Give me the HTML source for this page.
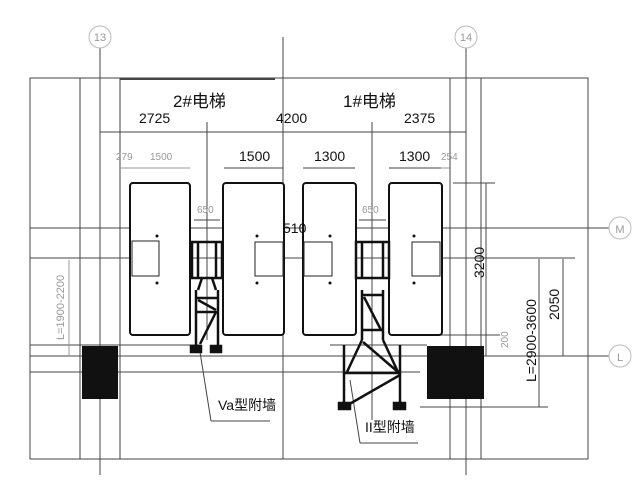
<!DOCTYPE html>
<html><head><meta charset="utf-8"><style>
html,body{margin:0;padding:0;background:#fff;width:640px;height:480px;overflow:hidden}
text{font-family:"Liberation Sans","Noto Sans CJK SC",sans-serif}
</style></head><body>
<svg width="640" height="480" viewBox="0 0 640 480" xmlns="http://www.w3.org/2000/svg">
<g stroke="#444" stroke-width="1" fill="none">
<rect x="30" y="78" width="558" height="381"/>
<line x1="80" y1="78" x2="80" y2="459"/>
<line x1="120" y1="78" x2="120" y2="459"/>
<line x1="450" y1="78" x2="450" y2="459"/>
<line x1="481" y1="78" x2="481" y2="459"/>
<line x1="120" y1="79" x2="275" y2="79" stroke-width="2"/>
<line x1="100" y1="48" x2="100" y2="475"/>
<line x1="466" y1="48" x2="466" y2="475"/>
<line x1="283" y1="37" x2="283" y2="459"/>
<line x1="207" y1="122" x2="207" y2="340"/>
<line x1="372" y1="122" x2="372" y2="420"/>
<line x1="30" y1="228" x2="609" y2="228"/>
<line x1="30" y1="258" x2="575" y2="258"/>
<line x1="30" y1="345" x2="200" y2="345"/>
<line x1="30" y1="356" x2="609" y2="356"/>
<line x1="30" y1="372" x2="420" y2="372"/>
<line x1="330" y1="345" x2="427" y2="345"/>
<line x1="400" y1="335" x2="500" y2="335"/>
<line x1="420" y1="407" x2="548" y2="407"/>
<line x1="453" y1="183" x2="495" y2="183"/>
<line x1="486" y1="183" x2="486" y2="356"/>
<line x1="563" y1="259" x2="563" y2="356"/>
<line x1="539" y1="259" x2="539" y2="407"/>
<line x1="200" y1="352" x2="211" y2="421"/><line x1="211" y1="421" x2="270" y2="421"/>
<line x1="350" y1="380" x2="360" y2="443"/><line x1="360" y1="443" x2="418" y2="443"/>
<line x1="100" y1="132" x2="466" y2="132"/>
<line x1="120" y1="168" x2="190" y2="168" stroke="#999"/>
<line x1="224" y1="168" x2="283" y2="168"/>
<line x1="303" y1="168" x2="355" y2="168"/>
<line x1="389" y1="168" x2="441" y2="168"/>
<line x1="441" y1="168" x2="451" y2="168" stroke="#999"/>
<line x1="194" y1="220" x2="220" y2="220"/>
<line x1="359" y1="220" x2="386" y2="220"/>
<line x1="69" y1="260" x2="69" y2="356" stroke="#999"/>
</g>
<circle cx="100" cy="37" r="11" fill="#fff" stroke="#bbb"/>
<circle cx="466" cy="37" r="11" fill="#fff" stroke="#bbb"/>
<circle cx="620" cy="228" r="11" fill="#fff" stroke="#bbb"/>
<circle cx="620" cy="356" r="11" fill="#fff" stroke="#bbb"/>
<g fill="#999" font-size="11" text-anchor="middle">
<text x="100" y="41">13</text><text x="466" y="41">14</text><text x="620" y="233">M</text><text x="620" y="361">L</text>
</g>
<g stroke="#111" stroke-width="2" fill="#fff">
<rect x="130" y="183" width="60" height="152" rx="3"/>
<rect x="223" y="183" width="61" height="152" rx="3"/>
<rect x="303" y="183" width="53" height="152" rx="3"/>
<rect x="389" y="183" width="53" height="152" rx="3"/>
</g>
<g stroke="#222" stroke-width="1" fill="none">
<rect x="132" y="241" width="27" height="35"/>
<rect x="255" y="242" width="28" height="34"/>
<rect x="304" y="242" width="28" height="34"/>
<rect x="412" y="242" width="28" height="34"/>
</g>
<g fill="#111">
<circle cx="157" cy="236" r="1.5"/><circle cx="157" cy="283" r="1.5"/>
<circle cx="257" cy="236" r="1.5"/><circle cx="257" cy="283" r="1.5"/>
<circle cx="330" cy="236" r="1.5"/><circle cx="330" cy="283" r="1.5"/>
<circle cx="414" cy="236" r="1.5"/><circle cx="414" cy="283" r="1.5"/>
<rect x="82" y="346" width="36" height="53"/>
<rect x="427" y="346" width="57" height="53"/>
</g>
<g stroke="#111" stroke-width="2.5" fill="none">
<rect x="192" y="242" width="30" height="36"/>
<line x1="198" y1="242" x2="198" y2="278"/><line x1="216" y1="242" x2="216" y2="278"/>
<line x1="196" y1="290" x2="196" y2="345"/><line x1="218" y1="290" x2="218" y2="345"/>
<line x1="196" y1="298" x2="218" y2="298"/><line x1="196" y1="312" x2="218" y2="312"/>
<line x1="198" y1="300" x2="216" y2="310"/><line x1="216" y1="312" x2="200" y2="344"/>
<line x1="202" y1="278" x2="198" y2="290"/><line x1="212" y1="278" x2="216" y2="290"/>
<rect x="191" y="346" width="10" height="6" fill="#111"/>
<rect x="211" y="346" width="10" height="6" fill="#111"/>
</g>
<g stroke="#111" stroke-width="2.5" fill="none">
<rect x="356" y="242" width="33" height="36"/>
<line x1="362" y1="242" x2="362" y2="278"/><line x1="383" y1="242" x2="383" y2="278"/>
<line x1="362" y1="290" x2="362" y2="340"/><line x1="383" y1="290" x2="383" y2="340"/>
<line x1="362" y1="295" x2="383" y2="295"/><line x1="362" y1="330" x2="383" y2="330"/>
<line x1="364" y1="297" x2="381" y2="330"/>
<line x1="362" y1="340" x2="347" y2="372"/><line x1="383" y1="340" x2="398" y2="372"/>
<line x1="363" y1="342" x2="398" y2="372"/>
<line x1="344" y1="345" x2="344" y2="408"/><line x1="400" y1="345" x2="400" y2="408"/>
<line x1="344" y1="373" x2="400" y2="373"/><line x1="400" y1="375" x2="346" y2="406"/>
<rect x="339" y="403" width="11" height="6" fill="#111"/>
<rect x="394" y="403" width="11" height="6" fill="#111"/>
</g>
<g fill="#111" font-size="17">
<text x="173" y="107">2#电梯</text>
<text x="343" y="107">1#电梯</text>
</g>
<g fill="#111" font-size="14">
<text x="139" y="123">2725</text><text x="276" y="123">4200</text><text x="404" y="123">2375</text>
<text x="239" y="161">1500</text><text x="314" y="161">1300</text><text x="399" y="161">1300</text>
<text x="283" y="233">510</text>
<text x="218" y="410">Va型附墙</text><text x="365" y="432">II型附墙</text>
</g>
<g fill="#999" font-size="10">
<text x="116" y="160">279</text><text x="150" y="160">1500</text><text x="441" y="160">254</text>
<text x="197" y="213">650</text><text x="362" y="213">650</text>
</g>
<g fill="#111" font-size="14">
<text transform="translate(484,278) rotate(-90)">3200</text>
<text transform="translate(559,320) rotate(-90)">2050</text>
<text transform="translate(536,382) rotate(-90)">L=2900-3600</text>
</g>
<text transform="translate(508,348) rotate(-90)" fill="#999" font-size="10">200</text>
<text transform="translate(64,340) rotate(-90)" fill="#999" font-size="11">L=1900-2200</text>
</svg>
</body></html>
